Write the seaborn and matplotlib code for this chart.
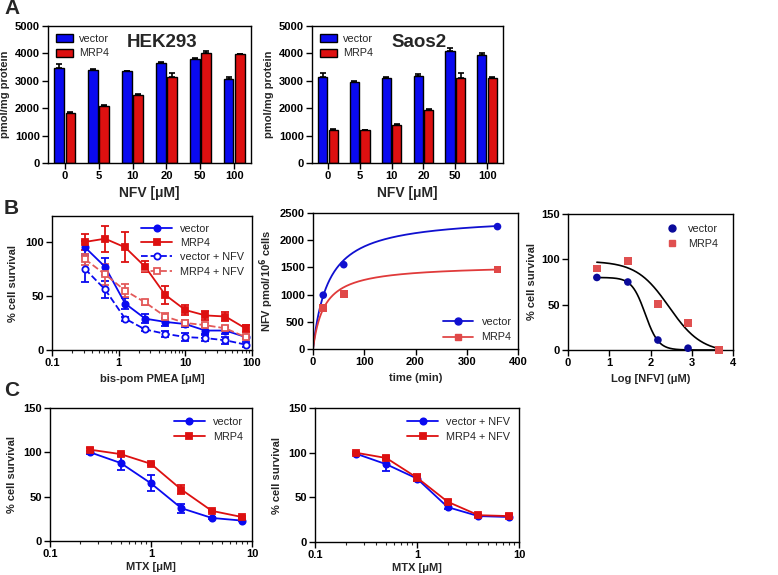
import numpy as np
import pandas as pd
import matplotlib
matplotlib.use("Agg")
import matplotlib.pyplot as plt
from matplotlib.lines import Line2D
from matplotlib.patches import Patch
import seaborn as sns

sns.set_theme(style="ticks")
plt.rcParams['font.family'] = ['Liberation Sans', 'DejaVu Sans']
plt.rcParams['axes.linewidth'] = 1.0

# ---------------- data ----------------
nfv_conc = ["0", "5", "10", "20", "50", "100"]
hek_vector = [3460, 3380, 3340, 3660, 3800, 3060]
hek_vector_err = [150, 40, 30, 30, 30, 80]
hek_mrp4 = [1830, 2090, 2490, 3130, 4010, 3970]
hek_mrp4_err = [30, 20, 30, 160, 60, 20]
saos_vector = [3140, 2950, 3100, 3170, 4080, 3950]
saos_vector_err = [140, 40, 50, 90, 120, 80]
saos_mrp4 = [1210, 1190, 1400, 1940, 3120, 3110]
saos_mrp4_err = [40, 30, 30, 30, 180, 30]

pmea_conc = [0.3125, 0.625, 1.25, 2.5, 5, 10, 20, 40, 80]
pmea_vector = [95, 77, 43, 29, 26, 24, 18, 18, 12]
pmea_vector_err = [6, 8, 5, 4, 4, 3, 3, 3, 2]
pmea_mrp4 = [100, 103, 95, 77, 51, 37, 32, 31, 20]
pmea_mrp4_err = [7, 12, 14, 5, 8, 5, 4, 4, 3]
pmea_vector_nfv = [75, 56, 29, 19, 15, 12, 11, 9, 5]
pmea_vector_nfv_err = [12, 8, 2, 1, 3, 4, 3, 3, 2]
pmea_mrp4_nfv = [84, 70, 55, 44, 31, 25, 23, 20, 12]
pmea_mrp4_nfv_err = [5, 10, 6, 2, 3, 3, 2, 2, 2]

time_min = [20, 60, 360]
uptake_vector = [990, 1550, 2250]
uptake_mrp4 = [750, 1010, 1460]
fit_vector_bmax, fit_vector_k = 2450, 30
fit_mrp4_bmax, fit_mrp4_k = 1550, 22

log_nfv = [0.70, 1.45, 2.18, 2.91, 3.66]
surv_vector = [80, 75, 11, 2, 0]
surv_mrp4 = [90, 98, 51, 30, 0]
fit_v = dict(top=80, bottom=0, logec50=1.87, hill=2.7)
fit_m = dict(top=98, bottom=-3, logec50=2.45, hill=1.1)

mtx_conc = [0.25, 0.5, 1, 2, 4, 8]
mtx_vector = [100, 88, 65, 37, 26, 23]
mtx_vector_err = [2, 8, 9, 5, 1, 1]
mtx_mrp4 = [103, 98, 87, 58, 34, 27]
mtx_mrp4_err = [2, 1, 1, 5, 1, 1]
mtx_vector_nfv = [99, 87, 71, 39, 29, 28]
mtx_vector_nfv_err = [1, 7, 3, 2, 1, 1]
mtx_mrp4_nfv = [100, 94, 72, 45, 30, 29]
mtx_mrp4_nfv_err = [1, 2, 4, 2, 1, 2]

# ---------------- layout ----------------
W, H = 778, 575
fig = plt.figure(figsize=(W / 100, H / 100), dpi=100)


def add_ax(L, R, T, B):
    return fig.add_axes([L / W, 1 - B / H, (R - L) / W, (B - T) / H])


TICKFS = 8
LABFS = 8
LEGFS = 7.8


def style_ax(ax):
    ax.tick_params(axis='both', which='major', direction='out', length=4, width=1,
                   labelsize=TICKFS, pad=2, colors='black')
    ax.tick_params(axis='both', which='minor', direction='out', length=2.5, width=0.8)
    for lab in ax.get_xticklabels() + ax.get_yticklabels():
        lab.set_fontweight('bold')
    for s in ax.spines.values():
        s.set_color('black')
        s.set_linewidth(1.0)


BLUE = '#0A0AF0'
RED = '#DD1010'
LRED = '#E35A5A'


def bar_panel(ax, vec, vec_err, mrp, mrp_err, title):
    df = pd.DataFrame({
        'conc': nfv_conc * 2,
        'val': vec + mrp,
        'grp': ['vector'] * len(vec) + ['MRP4'] * len(mrp),
    })
    sns.barplot(data=df, x='conc', y='val', hue='grp', order=nfv_conc,
                hue_order=['vector', 'MRP4'], palette=[BLUE, RED], saturation=1,
                width=0.66, gap=0.12, edgecolor='black', linewidth=1.0,
                errorbar=None, ax=ax, legend=False)
    errs = vec_err + mrp_err
    vals = vec + mrp
    for p, v, e in zip(ax.patches, vals, errs):
        cx = p.get_x() + p.get_width() / 2
        ax.errorbar([cx], [v], yerr=[[0], [e]], fmt='none', ecolor='black',
                    elinewidth=1.2, capsize=2.5, capthick=1.2)
    ax.set_ylim(0, 5000)
    ax.set_yticks([0, 1000, 2000, 3000, 4000, 5000])
    ax.set_xlim(-0.5, 5.5)
    ax.set_xlabel('NFV [μM]', fontsize=10, fontweight='bold', labelpad=3)
    ax.set_ylabel('pmol/mg protein', fontsize=LABFS, fontweight='bold', labelpad=3)
    ax.tick_params(axis='x', length=0)
    handles = [Patch(facecolor=BLUE, edgecolor='black', label='vector'),
               Patch(facecolor=RED, edgecolor='black', label='MRP4')]
    ax.legend(handles=handles, loc='upper left', frameon=False, fontsize=LEGFS,
              handlelength=1.6, handleheight=0.8, borderaxespad=0.3,
              handletextpad=0.6, labelspacing=0.45, bbox_to_anchor=(0.0, 1.0))
    ax.text(0.56, 0.88, title, transform=ax.transAxes, fontsize=13.5,
            fontweight='bold', ha='center', va='center')
    style_ax(ax)


# ---- Panel A ----
axA1 = add_ax(48, 251, 26, 163)
bar_panel(axA1, hek_vector, hek_vector_err, hek_mrp4, hek_mrp4_err, 'HEK293')
axA2 = add_ax(312, 503, 26, 163)
bar_panel(axA2, saos_vector, saos_vector_err, saos_mrp4, saos_mrp4_err, 'Saos2')


def series(ax, x, y, err, color, marker, ls, open_marker, label, ms=4.5):
    df = pd.DataFrame({'x': x, 'y': y})
    kw = dict(markeredgecolor=color, markeredgewidth=1.3,
              markerfacecolor='white' if open_marker else color)
    sns.lineplot(data=df, x='x', y='y', color=color, marker=marker,
                 linestyle=ls, linewidth=1.3, markersize=ms, ax=ax,
                 label=None, legend=False, **kw)
    if err is not None:
        ax.errorbar(x, y, yerr=err, fmt='none', ecolor=color, elinewidth=1.3,
                    capsize=3, capthick=1.3, zorder=1)
    return Line2D([], [], color=color, marker=marker, linestyle=ls, linewidth=1.3,
                  markersize=ms, label=label, **kw)


# ---- Panel B left ----
axB1 = add_ax(52, 252, 216, 350)
h = []
h.append(series(axB1, pmea_conc, pmea_vector, pmea_vector_err, BLUE, 'o', '-', False, 'vector'))
h.append(series(axB1, pmea_conc, pmea_mrp4, pmea_mrp4_err, RED, 's', '-', False, 'MRP4'))
h.append(series(axB1, pmea_conc, pmea_vector_nfv, pmea_vector_nfv_err, BLUE, 'o', '--', True, 'vector + NFV'))
h.append(series(axB1, pmea_conc, pmea_mrp4_nfv, pmea_mrp4_nfv_err, LRED, 's', '--', True, 'MRP4 + NFV'))
axB1.set_xscale('log')
axB1.set_xlim(0.1, 100)
axB1.set_ylim(0, 124)
axB1.set_xticks([0.1, 1, 10, 100], labels=['0.1', '1', '10', '100'])
axB1.set_yticks([0, 50, 100])
axB1.set_xlabel('bis-pom PMEA [μM]', fontsize=LABFS, fontweight='bold', labelpad=4)
axB1.set_ylabel('% cell survival', fontsize=LABFS, fontweight='bold', labelpad=5)
axB1.legend(handles=h, loc='upper right', frameon=False, fontsize=LEGFS,
            handlelength=2.8, labelspacing=0.4, borderaxespad=0.3)
style_ax(axB1)

# ---- Panel B middle ----
axB2 = add_ax(313, 518, 213, 349)
tt = np.linspace(0, 360, 400)
curve_df = pd.DataFrame({
    't': np.concatenate([tt, tt]),
    'v': np.concatenate([fit_vector_bmax * tt / (fit_vector_k + tt),
                         fit_mrp4_bmax * tt / (fit_mrp4_k + tt)]),
    'g': ['vector'] * len(tt) + ['MRP4'] * len(tt),
})
sns.lineplot(data=curve_df, x='t', y='v', hue='g', palette={'vector': '#1010D0', 'MRP4': '#E03A3A'},
             linewidth=1.3, ax=axB2, legend=False)
pts_df = pd.DataFrame({'t': time_min * 2, 'v': uptake_vector + uptake_mrp4,
                       'g': ['vector'] * 3 + ['MRP4'] * 3})
sns.scatterplot(data=pts_df, x='t', y='v', hue='g', style='g',
                markers={'vector': 'o', 'MRP4': 's'},
                palette={'vector': '#1010D0', 'MRP4': '#E04848'}, s=30,
                edgecolor='none', ax=axB2, legend=False, zorder=3)
axB2.set_xlim(0, 400)
axB2.set_ylim(0, 2500)
axB2.set_xticks([0, 100, 200, 300, 400])
axB2.set_yticks([0, 500, 1000, 1500, 2000, 2500])
axB2.set_xlabel('time (min)', fontsize=LABFS, fontweight='bold', labelpad=4)
axB2.set_ylabel('NFV pmol/10$^{\\mathbf{6}}$ cells', fontsize=LABFS, fontweight='bold', labelpad=3)
hb = [Line2D([], [], color='#1010D0', marker='o', markersize=5, linewidth=1.3, label='vector'),
      Line2D([], [], color='#E04848', marker='s', markersize=5, linewidth=1.3, label='MRP4')]
axB2.legend(handles=hb, loc='lower right', frameon=False, fontsize=LEGFS,
            handlelength=2.8, labelspacing=0.5, borderaxespad=0.2)
style_ax(axB2)

# ---- Panel B right ----
axB3 = add_ax(568, 733, 214, 350)


def sigm(x, p):
    x = np.asarray(x)
    return p['bottom'] + (p['top'] - p['bottom']) / (1 + 10 ** (p['hill'] * (x - p['logec50'])))


xx = np.linspace(log_nfv[0], log_nfv[-1], 300)
fit_df = pd.DataFrame({'x': np.concatenate([xx, xx]),
                       'y': np.concatenate([np.clip(sigm(xx, fit_v), 0, None),
                                            np.clip(sigm(xx, fit_m), 0, None)]),
                       'g': ['v'] * len(xx) + ['m'] * len(xx)})
sns.lineplot(data=fit_df, x='x', y='y', units='g', estimator=None, color='black',
             linewidth=1.2, ax=axB3, legend=False)
sdf = pd.DataFrame({'x': log_nfv * 2, 'y': surv_vector + surv_mrp4,
                    'g': ['vector'] * 5 + ['MRP4'] * 5})
sns.scatterplot(data=sdf, x='x', y='y', hue='g', style='g',
                markers={'vector': 'o', 'MRP4': 's'},
                palette={'vector': '#0A0A9A', 'MRP4': '#E05050'}, s=30,
                edgecolor='none', ax=axB3, legend=False, zorder=3, clip_on=False)
axB3.set_xlim(0, 4)
axB3.set_ylim(0, 150)
axB3.set_xticks([0, 1, 2, 3, 4])
axB3.set_yticks([0, 50, 100, 150])
axB3.set_xlabel('Log [NFV] (μM)', fontsize=LABFS, fontweight='bold', labelpad=4)
axB3.set_ylabel('% cell survival', fontsize=LABFS, fontweight='bold', labelpad=3)
hr = [Line2D([], [], color='#0A0A9A', marker='o', markersize=5, linestyle='none', label='vector'),
      Line2D([], [], color='#E05050', marker='s', markersize=5, linestyle='none', label='MRP4')]
axB3.legend(handles=hr, loc='upper right', frameon=False, fontsize=LEGFS,
            handlelength=1.5, labelspacing=0.5, borderaxespad=0.5, bbox_to_anchor=(0.97, 1.0))
style_ax(axB3)

# ---- Panel C ----
axC1 = add_ax(50, 252, 408, 541)
hc = []
hc.append(series(axC1, mtx_conc, mtx_vector, mtx_vector_err, BLUE, 'o', '-', False, 'vector'))
hc.append(series(axC1, mtx_conc, mtx_mrp4, mtx_mrp4_err, RED, 's', '-', False, 'MRP4'))
axC2 = add_ax(315, 519, 408, 542)
hc2 = []
hc2.append(series(axC2, mtx_conc, mtx_vector_nfv, mtx_vector_nfv_err, BLUE, 'o', '-', False, 'vector + NFV'))
hc2.append(series(axC2, mtx_conc, mtx_mrp4_nfv, mtx_mrp4_nfv_err, RED, 's', '-', False, 'MRP4 + NFV'))
for ax, hh in [(axC1, hc), (axC2, hc2)]:
    ax.set_xscale('log')
    ax.set_xlim(0.1, 10)
    ax.set_ylim(0, 150)
    ax.set_xticks([0.1, 1, 10], labels=['0.1', '1', '10'])
    ax.set_yticks([0, 50, 100, 150])
    ax.set_xlabel('MTX [μM]', fontsize=LABFS, fontweight='bold', labelpad=2)
    ax.set_ylabel('% cell survival', fontsize=LABFS, fontweight='bold', labelpad=4)
    ax.legend(handles=hh, loc='upper right', frameon=False, fontsize=LEGFS,
              handlelength=2.8, labelspacing=0.5, borderaxespad=0.4)
    style_ax(ax)

# panel letters
for letter, y in [('A', 9), ('B', 209), ('C', 390)]:
    fig.text(4 / W, 1 - y / H, letter, fontsize=15, fontweight='bold', ha='left', va='center')

fig.savefig('out.png', dpi=100)
